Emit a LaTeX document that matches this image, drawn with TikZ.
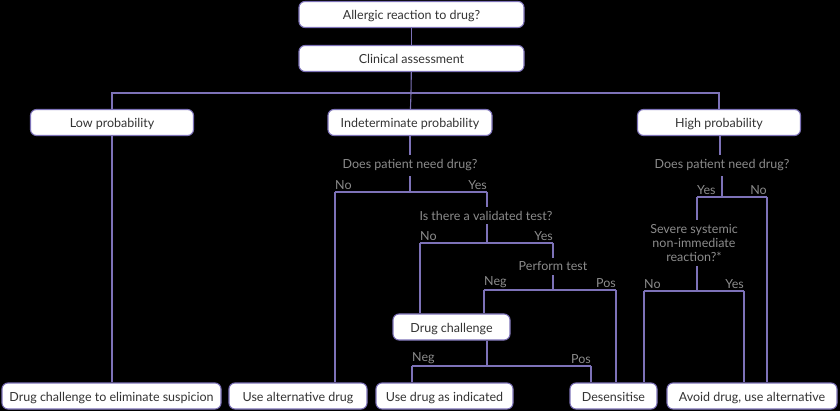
\documentclass[tikz,border=0pt]{standalone}
\usepackage{fontspec}
\setmainfont{Lato}
\definecolor{lineC}{HTML}{7D72B8}
\definecolor{txtC}{HTML}{333333}
\definecolor{lblC}{HTML}{8C8C8C}
\begin{document}
\begin{tikzpicture}[x=1pt,y=-1pt,
  box/.style={draw=lineC, fill=white, rounded corners=6pt, line width=1.1pt,
    minimum height=26pt, inner sep=0pt, text height=12pt, text depth=1pt,
    text=txtC, font=\fontsize{12.5}{14}\selectfont},
  lbl/.style={text=lblC, font=\fontsize{12.5}{14}\selectfont, inner sep=3pt},
  conn/.style={draw=lineC, line width=1.1pt}]
\fill[black] (0,0) rectangle (840,411);
\useasboundingbox (0,0) rectangle (840,411);

% boxes
\node[box, minimum width=225pt] (allergic) at (411.5,14.5) {Allergic reaction to drug?};
\node[box, minimum width=225pt] (clinical) at (411.5,58.5) {Clinical assessment};
\node[box, minimum width=163pt] (low) at (112,122.5) {Low probability};
\node[box, minimum width=164pt] (indet) at (410,122.5) {Indeterminate probability};
\node[box, minimum width=163pt] (high) at (719,122.5) {High probability};
\node[box, minimum width=117pt] (dchal) at (451.5,327) {Drug challenge};
\node[box, minimum width=219pt] (b1) at (111.5,396) {Drug challenge to eliminate suspicion};
\node[box, minimum width=138pt] (b2) at (298,396) {Use alternative drug};
\node[box, minimum width=137pt] (b3) at (444.5,396) {Use drug as indicated};
\node[box, minimum width=87pt] (b4) at (613.5,396) {Desensitise};
\node[box, minimum width=170pt] (b5) at (752,396) {Avoid drug, use alternative};

% question labels
\node[lbl, inner sep=5pt] (q1) at (410,165.5) {Does patient need drug?};
\node[lbl, inner sep=5pt] (q2) at (722,165.5) {Does patient need drug?};
\node[lbl, inner sep=4pt] (q3) at (486,215.5) {Is there a validated test?};
\node[lbl, inner sep=4pt] (q4) at (553,266.5) {Perform test};
\node[lbl, align=center, inner sep=4pt] (q5) at (694,243) {Severe systemic\\non-immediate\\reaction?*};

% top
\draw[conn] (allergic) -- (clinical);
\coordinate (h1) at (411,93);
\draw[conn] (clinical) -- (h1);
\draw[conn] (low.north) |- (h1) -| (high.north);
\draw[conn] (h1) -- (indet);
\draw[conn] (low) -- (low |- b1.north);

% indeterminate branch
\draw[conn] (indet) -- (q1);
\coordinate (s1l) at (335,192);
\coordinate (s1r) at (487,192);
\draw[conn] (q1) -- (q1 |- s1l);
\draw[conn] (s1l) -- (s1r);
\draw[conn] (s1l) -- (s1l |- b2.north);
\draw[conn] (s1r) -- (s1r |- q3.north);
\node[lbl, anchor=south west, inner xsep=0pt, inner ysep=2pt] (n1) at (s1l) {No};
\node[lbl, anchor=south east, inner xsep=0pt, inner ysep=2pt] (y1) at (s1r) {Yes};

\coordinate (s2l) at (420,243);
\coordinate (s2r) at (553,243);
\draw[conn] (q3.south -| 487,0) -- (487,243);
\draw[conn] (s2l) -- (s2r);
\draw[conn] (s2l) -- (s2l |- dchal.north);
\draw[conn] (s2r) -- (s2r |- q4.north);
\node[lbl, anchor=south west, inner xsep=0pt, inner ysep=2pt] (n2) at (s2l) {No};
\node[lbl, anchor=south east, inner xsep=0pt, inner ysep=2pt] (y2) at (s2r) {Yes};

\coordinate (s3l) at (484,290);
\coordinate (s3r) at (616,290);
\draw[conn] (q4) -- (q4 |- s3l);
\draw[conn] (s3l) -- (s3r);
\draw[conn] (s3l) -- (s3l |- dchal.north);
\draw[conn] (s3r) -- (s3r |- b4.north);
\node[lbl, anchor=south west, inner xsep=0pt, inner ysep=2pt] (n3) at (s3l) {Neg};
\node[lbl, anchor=south east, inner xsep=0pt, inner ysep=2pt] (p3) at (s3r) {Pos};

\coordinate (s4l) at (412,366);
\coordinate (s4r) at (591,366);
\draw[conn] (dchal.south -| 487,0) -- (487,366);
\draw[conn] (s4l) -- (s4r);
\draw[conn] (s4l) -- (s4l |- b3.north);
\draw[conn] (s4r) -- (s4r |- b4.north);
\node[lbl, anchor=south west, inner xsep=0pt, inner ysep=2pt] (n4) at (s4l) {Neg};
\node[lbl, anchor=south east, inner xsep=0pt, inner ysep=2pt] (p4) at (s4r) {Pos};

% high branch
\draw[conn] (high.south -| 720,0) -- (q2.north -| 720,0);
\coordinate (s5l) at (697,197);
\coordinate (s5r) at (767,197);
\draw[conn] (q2) -- (q2 |- s5l);
\draw[conn] (s5l) -- (s5r);
\draw[conn] (s5l) -- (s5l |- q5.north);
\draw[conn] (s5r) -- (s5r |- b5.north);
\node[lbl, anchor=south west, inner xsep=0pt, inner ysep=2pt] (y5) at (s5l) {Yes};
\node[lbl, anchor=south east, inner xsep=0pt, inner ysep=2pt] (n5) at (s5r) {No};

\coordinate (s6l) at (644,291);
\coordinate (s6r) at (744,291);
\draw[conn] (q5.south -| 697,0) -- (697,291);
\draw[conn] (s6l) -- (s6r);
\draw[conn] (s6l) -- (s6l |- b4.north);
\draw[conn] (s6r) -- (s6r |- b5.north);
\node[lbl, anchor=south west, inner xsep=0pt, inner ysep=2pt] (n6) at (s6l) {No};
\node[lbl, anchor=south east, inner xsep=0pt, inner ysep=2pt] (y6) at (s6r) {Yes};
\end{tikzpicture}
\end{document}
